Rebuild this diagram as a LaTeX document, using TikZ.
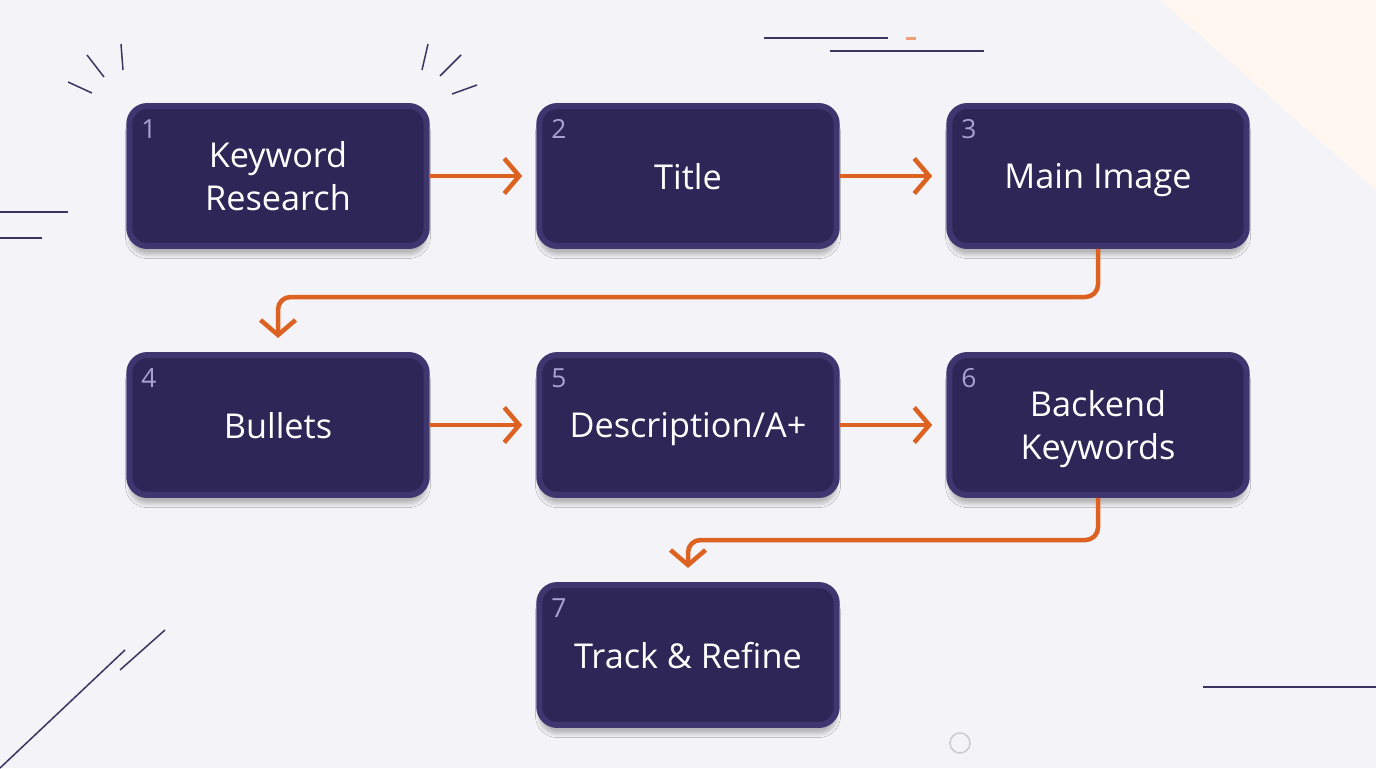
\documentclass[tikz,border=0pt]{standalone}
\usepackage{fontspec}
\setmainfont{Open Sans}
\usetikzlibrary{positioning,arrows.meta,shadows.blur}
\definecolor{boxfill}{HTML}{2E2656}
\definecolor{boxedge}{HTML}{3F3670}
\definecolor{flow}{HTML}{DD6120}
\definecolor{numcol}{HTML}{A8A2D2}
\definecolor{deco}{HTML}{3A3560}
\definecolor{paper}{HTML}{F4F4F8}
\tikzset{
  stage/.style={draw=boxedge, line width=1.2mm, fill=boxfill, rounded corners=0.36cm,
    minimum width=5.95cm, minimum height=2.8cm, text=white, align=center,
    text depth=0pt, font=\fontsize{19.5}{24}\selectfont,
    blur shadow={shadow blur steps=8,shadow xshift=0pt,shadow yshift=-5pt,shadow opacity=25}},
  num/.style={text=numcol, font=\fontsize{15}{15}\selectfont},
  link/.style={draw=flow, line width=0.9mm, rounded corners=0.25cm,
    -{Straight Barb[length=3mm,width=7mm,line width=0.9mm]}},
  deco/.style={draw=deco, line width=0.3mm}
}
\begin{document}
\begin{tikzpicture}[x=0.02cm,y=-0.02cm]
\fill[paper] (0,0) rectangle (1376,768);
\useasboundingbox (0,0) rectangle (1376,768);
\fill[orange!6] (1376,0) -- (1376,190) -- (1160,0) -- cycle;

% decoration
\draw[deco] (764,38) -- (888,38);
\draw[deco] (830,51) -- (984,51);
\draw[flow!60, line width=0.6mm] (906,38) -- (916,38);
\draw[deco] (0,212) -- (68,212);
\draw[deco] (0,238) -- (42,238);
\draw[deco] (1203,687) -- (1376,687);
\draw[deco] (68,82) -- (92,93);
\draw[deco] (87,55) -- (104,77);
\draw[deco] (121,44) -- (123,70);
\draw[deco] (428,44) -- (422,70);
\draw[deco] (461,55) -- (440,76);
\draw[deco] (477,85) -- (452,94);
\draw[deco] (120,670) -- (165,630);
\draw[deco] (0,768) -- (125,650);
\draw[gray!40, line width=0.3mm] (960,743) circle (10);

% steps
\node[stage] (kw) at (278,176) {Keyword\\Research};
\node[stage] (title) at (688,176) {Title};
\node[stage] (img) at (1098,176) {Main Image};
\node[stage] (bul) at (278,425) {Bullets};
\node[stage] (desc) at (688,425) {Description/A+};
\node[stage] (back) at (1098,425) {Backend\\Keywords};
\node[stage] (track) at (688,655) {Track \& Refine};

\foreach \n/\k in {kw/1,title/2,img/3,bul/4,desc/5,back/6,track/7}
  \node[num, anchor=north west] at ([xshift=5pt,yshift=-6pt]\n.north west) {\k};

% flow
\draw[link] (kw) -- ([xshift=-8pt]title.west);
\draw[link] (title) -- ([xshift=-8pt]img.west);
\draw[link] (bul) -- ([xshift=-8pt]desc.west);
\draw[link] (desc) -- ([xshift=-8pt]back.west);
\draw[link] (img.south) |- (278,297) -- ([yshift=8pt]bul.north);
\draw[link] (back.south) |- (688,540) -- ([yshift=8pt]track.north);
\end{tikzpicture}
\end{document}
